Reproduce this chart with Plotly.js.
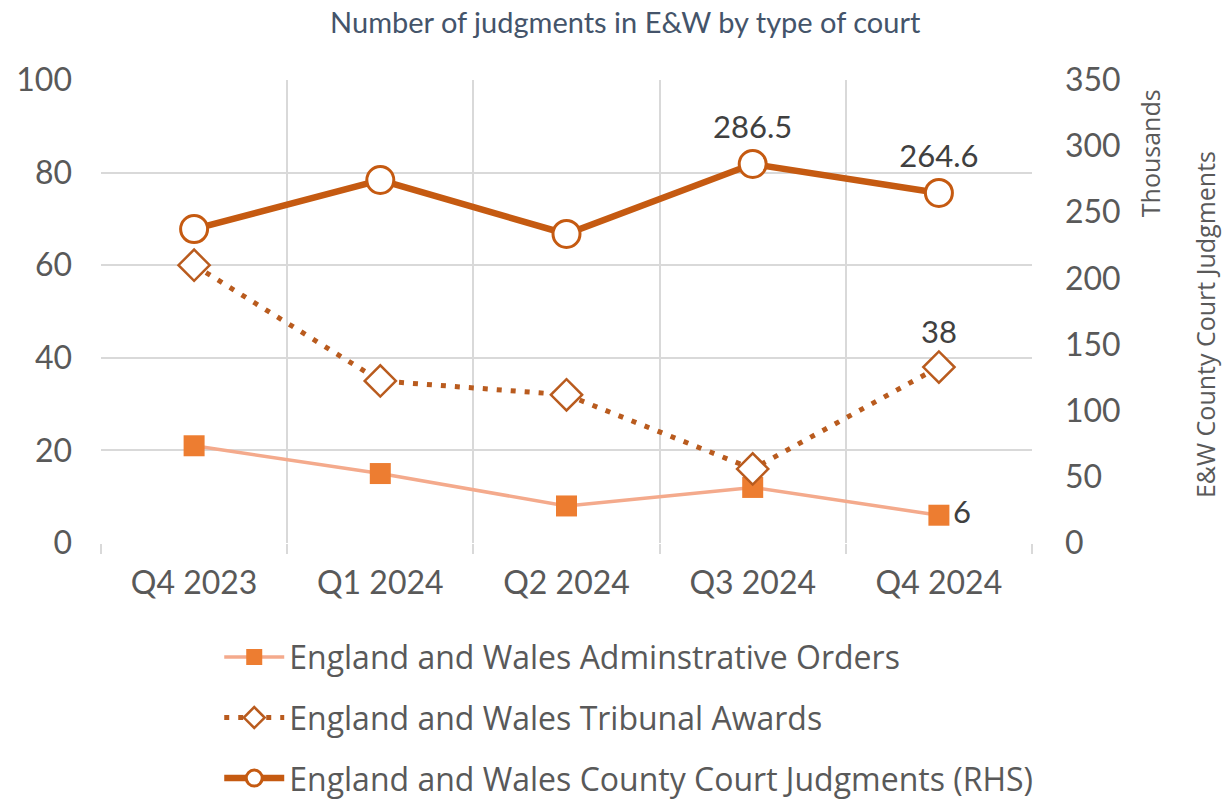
<!DOCTYPE html>
<html>
<head>
<meta charset="utf-8">
<script src="https://cdn.plot.ly/plotly-3.0.1.min.js"></script>
<style>html,body{margin:0;padding:0;background:#fff;}</style>
</head>
<body>
<div id="chart" style="width:1226px;height:799px;"></div>
<script>
const categories = ["Q4 2023", "Q1 2024", "Q2 2024", "Q3 2024", "Q4 2024"];
const adminOrders = [21, 15, 8, 12, 6];
const tribunalAwards = [60, 35, 32, 16, 38];
const countyCourtThousands = [237.3, 274.4, 233.6, 286.5, 264.6];
const adminLabels = ["", "", "", "", "6"];
const tribunalLabels = ["", "", "", "", "38"];
const countyLabels = ["", "", "", "286.5", "264.6"];

const FONT = "Lato, 'Open Sans', sans-serif";
const WIDE = "'Open Sans', Lato, sans-serif";

const traces = [
  {
    x: categories, y: adminOrders, name: "England and Wales Adminstrative Orders",
    type: "scatter", mode: "lines+markers+text", text: adminLabels,
    textposition: "middle right", textfont: {size: 31, color: "#404040", family: FONT},
    line: {color: "#F4AA8C", width: 3.5},
    marker: {symbol: "square", size: 21, color: "#ED7D31"},
    legendgroup: "a", yaxis: "y", cliponaxis: false
  },
  {
    x: categories, y: tribunalAwards, name: "England and Wales Tribunal Awards",
    type: "scatter", mode: "lines+markers+text", text: tribunalLabels,
    textposition: "top center", textfont: {size: 31, color: "#404040", family: FONT},
    line: {color: "#B95B1E", width: 5, dash: "5px,9px"},
    marker: {symbol: "diamond", size: 24, color: "#FFFFFF", line: {color: "#B95B1E", width: 2.5}},
    legendgroup: "b", yaxis: "y", cliponaxis: false
  },
  {
    x: categories, y: countyCourtThousands, name: "England and Wales County Court Judgments (RHS)",
    type: "scatter", mode: "lines+markers+text", text: countyLabels,
    textposition: "top center", textfont: {size: 31, color: "#404040", family: FONT},
    line: {color: "#C55A11", width: 6.5},
    marker: {symbol: "circle", size: 27, color: "#FFFFFF", line: {color: "#C55A11", width: 3}},
    legendgroup: "c", yaxis: "y2", cliponaxis: false
  }
];

const layout = {
  width: 1226, height: 799,
  paper_bgcolor: "#FFFFFF", plot_bgcolor: "#FFFFFF",
  margin: {l: 101, r: 194, t: 80, b: 256},
  font: {family: FONT, color: "#595959"},
  title: {
    text: "Number of judgments in E&W by type of court",
    font: {size: 29, color: "#44546A", family: FONT},
    x: 0.51, xanchor: "center", y: 0.972, yanchor: "middle", xref: "container", yref: "container"
  },
  xaxis: {
    type: "category", tickson: "boundaries", range: [-0.5, 4.5], automargin: false,
    showgrid: true, gridcolor: "#D9D9D9", gridwidth: 2,
    ticks: "outside", ticklen: 10, tickcolor: "#D9D9D9", tickwidth: 2,
    ticklabelstandoff: 18,
    tickfont: {size: 32, color: "#595959", family: FONT},
    showline: false, zeroline: false
  },
  yaxis: {
    range: [0, 100], dtick: 20, showgrid: true, gridcolor: "#D9D9D9", gridwidth: 2,
    zeroline: false, showline: false, ticks: "", automargin: false,
    ticklabelstandoff: 28,
    tickfont: {size: 32, color: "#595959", family: FONT}
  },
  yaxis2: {
    range: [0, 350], dtick: 50, overlaying: "y", side: "right",
    showgrid: false, zeroline: false, showline: false, ticks: "", automargin: false,
    ticklabelstandoff: 32,
    tickfont: {size: 32, color: "#595959", family: FONT}
  },
  legend: {
    orientation: "v", x: 0.127, xanchor: "left", xref: "paper",
    y: 0.212, yanchor: "top", yref: "container",
    font: {size: 32, color: "#595959", family: WIDE},
    tracegroupgap: 16, itemwidth: 60, bgcolor: "rgba(0,0,0,0)"
  },
  annotations: [
    {text: "Thousands", xref: "paper", yref: "paper", x: 1.127, y: 0.985, xanchor: "center", yanchor: "top",
     textangle: -90, showarrow: false, font: {size: 25, color: "#595959", family: WIDE}},
    {text: "E&W County Court Judgments", xref: "paper", yref: "paper", x: 1.186, y: 0.471, xanchor: "center", yanchor: "middle",
     textangle: -90, showarrow: false, font: {size: 25, color: "#595959", family: WIDE}}
  ],
  showlegend: true
};

Plotly.newPlot("chart", traces, layout, {displayModeBar: false, staticPlot: true});
</script>
</body>
</html>
